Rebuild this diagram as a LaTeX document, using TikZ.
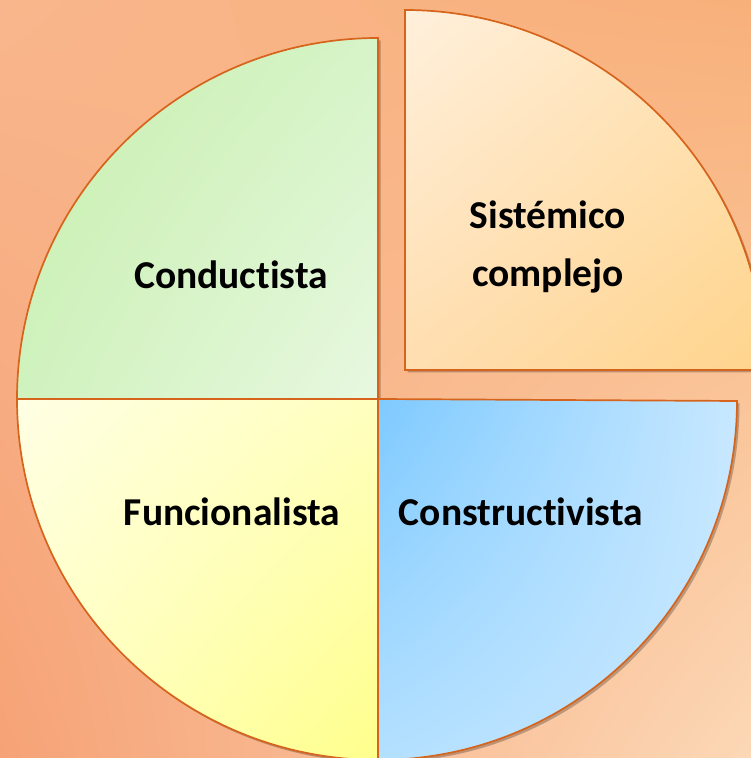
\documentclass[tikz,border=0pt]{standalone}
\usepackage{fontspec}
\setmainfont{Carlito}[RawFeature={-liga;-dlig;-clig;-hlig}]
\usetikzlibrary{shadings}
\definecolor{bgUL}{HTML}{F9B68C}
\definecolor{bgUR}{HTML}{F8B07A}
\definecolor{bgLL}{HTML}{F6A276}
\definecolor{bgLR}{HTML}{FCD8B6}
\definecolor{edge}{HTML}{D6641C}
\tikzset{
  quad/.style={draw=edge, line width=1.7pt},
  shadowq/.style={fill=black, fill opacity=0.25, draw=none},
  lbl/.style={font=\fontsize{39.5}{58}\selectfont\bfseries, text=black, align=center, inner sep=0pt}
}
\begin{document}
\begin{tikzpicture}[x=1pt,y=1pt]
\useasboundingbox (0,0) rectangle (751,758);
% background
\shade[upper left=bgUL, upper right=bgUR, lower left=bgLL, lower right=bgLR] (0,0) rectangle (751,758);
% shadows
\begin{scope}[shift={(2.5,-2.5)}]
\fill[shadowq] (378,359) -- ++(-361,0) arc[start angle=180,end angle=90,radius=361] -- cycle;
\fill[shadowq] (405,388) -- ++(0,360) arc[start angle=90,end angle=0,radius=360] -- cycle;
\fill[shadowq] (378,359) -- ++(0,-361) arc[start angle=270,end angle=360,radius=359] -- cycle;
\fill[shadowq] (378,359) -- ++(-361,0) arc[start angle=180,end angle=270,radius=361] -- cycle;
\end{scope}
% green (top-left)
\shade[quad, upper left={rgb,255:red,200;green,238;blue,172}, upper right={rgb,255:red,214;green,244;blue,200}, lower left={rgb,255:red,208;green,242;blue,190}, lower right={rgb,255:red,232;green,248;blue,224}]
  (378,359) -- ++(-361,0) arc[start angle=180,end angle=90,radius=361] -- cycle;
% orange (top-right, exploded)
\shade[quad, upper left={rgb,255:red,255;green,240;blue,220}, upper right={rgb,255:red,255;green,226;blue,180}, lower left={rgb,255:red,255;green,222;blue,176}, lower right={rgb,255:red,255;green,212;blue,140}]
  (405,388) -- ++(0,360) arc[start angle=90,end angle=0,radius=360] -- cycle;
% blue (bottom-right)
\shade[quad, upper left={rgb,255:red,126;green,202;blue,255}, upper right={rgb,255:red,200;green,232;blue,255}, lower left={rgb,255:red,180;green,224;blue,255}, lower right={rgb,255:red,200;green,232;blue,255}]
  (378,359) -- ++(0,-361) arc[start angle=270,end angle=360,radius=359] -- cycle;
% yellow (bottom-left)
\shade[quad, upper left={rgb,255:red,255;green,255;blue,228}, upper right={rgb,255:red,255;green,255;blue,190}, lower left={rgb,255:red,255;green,255;blue,196}, lower right={rgb,255:red,255;green,255;blue,140}]
  (378,359) -- ++(-361,0) arc[start angle=180,end angle=270,radius=361] -- cycle;
% labels
\node[lbl, anchor=base] (cond) at (231,469) {Conductista};
\node[lbl, anchor=base] (sist) at (548,529) {Sistémico};
\node[lbl, anchor=base] (comp) at (548,471) {complejo};
\node[lbl, anchor=base] (func) at (232,232) {Funcionalista};
\node[lbl, anchor=base] (cons) at (521,232) {Constructivista};
\end{tikzpicture}
\end{document}
